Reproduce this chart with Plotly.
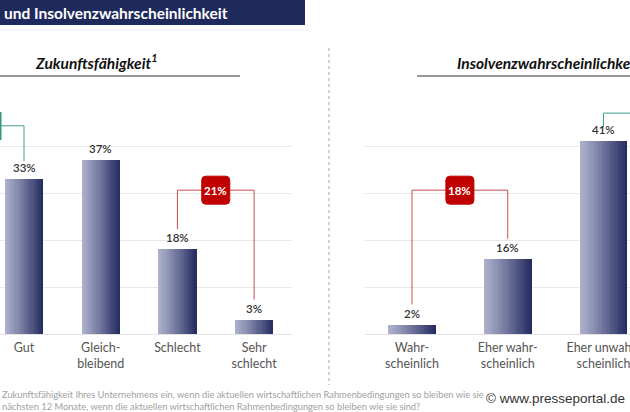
import plotly.graph_objects as go

W, H = 630, 412

# ---------------- data ----------------
cats_left = ["Gut", "Gleich-<br>bleibend", "Schlecht", "Sehr<br>schlecht"]
vals_left = [33, 37, 18, 3]
cats_right = ["Wahr-<br>scheinlich", "Eher wahr-<br>scheinlich", "Eher unwahr-<br>scheinlich"]
vals_right = [2, 16, 41]

header_text = "und Insolvenzwahrscheinlichkeit"
title_left = "Zukunftsfähigkeit<sup>1</sup>"
title_right = "Insolvenzwahrscheinlichkeit<sup>2</sup>"
foot1 = ("Zukunftsfähigkeit Ihres Unternehmens ein, wenn die aktuellen wirtschaftlichen "
         "Rahmenbedingungen so bleiben wie sie")
foot2 = ("nächsten 12 Monate, wenn die aktuellen wirtschaftlichen Rahmenbedingungen "
         "so bleiben wie sie sind?")
watermark = "© www.presseportal.de"

FONT = "Lato"
BAR_W = 0.5
N_SLICES = 18
C_LIGHT = (172, 175, 204)
C_DARK = (38, 46, 98)


def px(x):
    return x / W


def py(y):
    return 1 - y / H


def mix(t):
    t = t ** 1.1
    return "rgb(%d,%d,%d)" % tuple(round(a + (b - a) * t) for a, b in zip(C_LIGHT, C_DARK))


fig = go.Figure()

# gradient bars built from vertical slices of each bar
for cats, vals, xa, ya in [(cats_left, vals_left, "x", "y"), (cats_right, vals_right, "x2", "y2")]:
    step = BAR_W / N_SLICES
    for k in range(N_SLICES):
        wdt = step * (1.35 if k < N_SLICES - 1 else 1.0)
        fig.add_trace(go.Bar(
            x=cats, y=vals, xaxis=xa, yaxis=ya,
            width=[wdt] * len(cats), offset=[-BAR_W / 2 + k * step] * len(cats),
            marker=dict(color=mix(k / (N_SLICES - 1)), line=dict(width=0)),
            showlegend=False, hoverinfo="skip",
        ))

annotations = []
shapes = []

# value labels
for cats, vals, xa, ya in [(cats_left, vals_left, "x", "y"), (cats_right, vals_right, "x2", "y2")]:
    for c, v in zip(cats, vals):
        annotations.append(dict(x=c, y=v, xref=xa, yref=ya, text=f"{v}%", showarrow=False,
                                yanchor="bottom", yshift=3,
                                font=dict(family=FONT, size=11.5, color="#333333", weight=600)))

CLEAR = 4.3
RED = "#c0504d"
RED_BOX = "#c00000"
GREEN = "#3f9e8a"


def rounded_box(xa, ya, xc, yc, color, half=14, r=4):
    path = (f"M {-half},{-half + r} Q {-half},{-half} {-half + r},{-half} "
            f"L {half - r},{-half} Q {half},{-half} {half},{-half + r} "
            f"L {half},{half - r} Q {half},{half} {half - r},{half} "
            f"L {-half + r},{half} Q {-half},{half} {-half},{half - r} Z")
    return dict(type="path", xref=xa, yref=ya, xsizemode="pixel", ysizemode="pixel",
                xanchor=xc, yanchor=yc, path=path, fillcolor=color,
                line=dict(color=color, width=1), layer="above")


def bracket(xa, ya, i0, i1, v0, v1, top, color):
    return [
        dict(type="line", xref=xa, yref=ya, x0=i0, x1=i0, y0=v0 + CLEAR, y1=top,
             line=dict(color=color, width=1)),
        dict(type="line", xref=xa, yref=ya, x0=i0, x1=i1, y0=top, y1=top,
             line=dict(color=color, width=1)),
        dict(type="line", xref=xa, yref=ya, x0=i1, x1=i1, y0=v1 + CLEAR, y1=top,
             line=dict(color=color, width=1)),
    ]


# red bracket left: Schlecht + Sehr schlecht
RED_TOP = 30.6
shapes += bracket("x", "y", 2, 3, vals_left[2], vals_left[3], RED_TOP, RED)
shapes.append(rounded_box("x", "y", 2.5, RED_TOP, RED_BOX))
annotations.append(dict(x=2.5, y=RED_TOP, xref="x", yref="y", showarrow=False,
                        text=f"{vals_left[2] + vals_left[3]}%",
                        font=dict(family=FONT, size=11.5, color="white", weight=700)))

# red bracket right: Wahrscheinlich + Eher wahrscheinlich
shapes += bracket("x2", "y2", 0, 1, vals_right[0], vals_right[1], RED_TOP, RED)
shapes.append(rounded_box("x2", "y2", 0.5, RED_TOP, RED_BOX))
annotations.append(dict(x=0.5, y=RED_TOP, xref="x2", yref="y2", showarrow=False,
                        text=f"{vals_right[0] + vals_right[1]}%",
                        font=dict(family=FONT, size=11.5, color="white", weight=700)))

# green brackets (partly outside the visible area)
G_TOP_L = 44.3
shapes.append(dict(type="line", xref="x", yref="y", x0=0, x1=0, y0=vals_left[0] + 3.8, y1=G_TOP_L,
                   line=dict(color=GREEN, width=1)))
shapes.append(dict(type="line", xref="x", yref="y", x0=-1, x1=0, y0=G_TOP_L, y1=G_TOP_L,
                   line=dict(color=GREEN, width=1)))
shapes.append(dict(type="rect", xref="paper", yref="paper", x0=-0.05, x1=px(1.5),
                   y0=py(140), y1=py(112), fillcolor="#2f9a84", line=dict(width=0)))
G_TOP_R = 47.0
shapes.append(dict(type="line", xref="x2", yref="y2", x0=2, x1=2, y0=vals_right[2] + 3.0, y1=G_TOP_R,
                   line=dict(color=GREEN, width=1)))
shapes.append(dict(type="line", xref="x2", yref="y2", x0=2, x1=3, y0=G_TOP_R, y1=G_TOP_R,
                   line=dict(color=GREEN, width=1)))

# header bar
shapes.append(dict(type="rect", xref="paper", yref="paper", x0=-0.01, x1=px(305), y0=py(25), y1=1.01,
                   fillcolor="#1f2a5c", line=dict(width=0), layer="below"))
shapes.append(dict(type="line", xref="paper", yref="paper", x0=0, x1=px(310), y0=py(30), y1=py(30),
                   line=dict(color="#eeeeee", width=1)))
annotations.append(dict(x=px(2), y=py(13), xref="paper", yref="paper", xanchor="left", yanchor="middle",
                        text=f"<b>{header_text}</b>", showarrow=False,
                        font=dict(family=FONT, size=15.5, color="white")))

# panel titles and underlines
annotations.append(dict(x=px(96), y=py(62), xref="paper", yref="paper", xanchor="center", yanchor="middle",
                        text=f"<b><i>{title_left}</i></b>", showarrow=False,
                        font=dict(family=FONT, size=15.5, color="#111111")))
shapes.append(dict(type="line", xref="paper", yref="paper", x0=0, x1=px(240), y0=py(76), y1=py(76),
                   line=dict(color="#777777", width=1.5)))
annotations.append(dict(x=px(455), y=py(62), xref="paper", yref="paper", xanchor="left", yanchor="middle",
                        text=f"<b><i>{title_right}</i></b>", showarrow=False,
                        font=dict(family=FONT, size=15.5, color="#111111")))
shapes.append(dict(type="line", xref="paper", yref="paper", x0=px(417), x1=1, y0=py(76), y1=py(76),
                   line=dict(color="#777777", width=1.5)))

# dotted separator
shapes.append(dict(type="line", xref="paper", yref="paper", x0=px(329), x1=px(329), y0=py(48), y1=py(385),
                   line=dict(color="#c4c4c4", width=1.5, dash="dot")))

# footnotes
annotations.append(dict(x=0, y=py(394), xref="paper", yref="paper", xanchor="left", yanchor="middle",
                        text=foot1, showarrow=False, font=dict(family=FONT, size=9.3, color="#a0a0a0")))
annotations.append(dict(x=0, y=py(406), xref="paper", yref="paper", xanchor="left", yanchor="middle",
                        text=foot2, showarrow=False, font=dict(family=FONT, size=9.3, color="#a0a0a0")))
annotations.append(dict(x=px(484), y=py(398), xref="paper", yref="paper", xanchor="left", yanchor="middle",
                        text=watermark, showarrow=False,
                        font=dict(family="Liberation Sans", size=13.5, color="#333333")))

tickfont = dict(family=FONT, size=12.5, color="#555555")
Y_DOM = [(H - 334) / H, (H - 99) / H]

fig.update_layout(
    width=W, height=H, margin=dict(l=0, r=0, t=0, b=0, autoexpand=False),
    paper_bgcolor="white", plot_bgcolor="white",
    barmode="overlay", bargap=0,
    xaxis=dict(domain=[0, px(292)], type="category", range=[-0.313, 3.494], automargin=False,
               showgrid=False, ticks="", tickfont=tickfont, showline=False, zeroline=False,
               ticklabelstandoff=4),
    yaxis=dict(domain=Y_DOM, range=[0, 50], dtick=10, tick0=0, showticklabels=False, automargin=False,
               gridcolor="#e8e8e8", gridwidth=1, zeroline=True, zerolinecolor="#e3e3e3",
               zerolinewidth=1, anchor="x"),
    xaxis2=dict(domain=[px(365), 1], type="category", range=[-0.491, 2.277], anchor="y2",
                automargin=False, ticklabelstandoff=4,
                showgrid=False, ticks="", tickfont=tickfont, showline=False, zeroline=False),
    yaxis2=dict(domain=Y_DOM, range=[0, 50], dtick=10, tick0=0, showticklabels=False, automargin=False,
                gridcolor="#e8e8e8", gridwidth=1, zeroline=True, zerolinecolor="#e3e3e3",
                zerolinewidth=1, anchor="x2"),
    annotations=annotations, shapes=shapes,
)

fig.write_html("out.html")
